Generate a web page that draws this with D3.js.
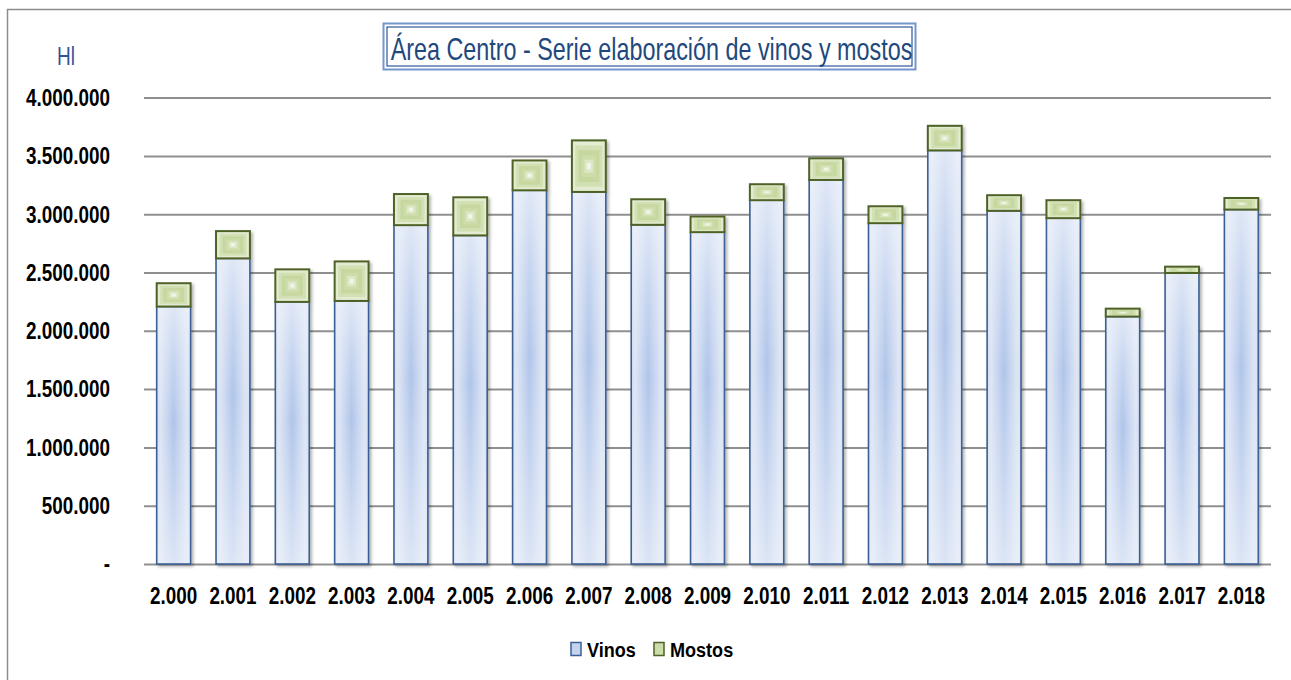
<!DOCTYPE html>
<html>
<head>
<meta charset="utf-8">
<script src="https://cdn.jsdelivr.net/npm/d3@7"></script>
<style>
  body { margin: 0; background: #fff; }
  svg text { font-family: "Liberation Sans Narrow", "Arial Narrow", "Liberation Sans", sans-serif; }
</style>
</head>
<body>
<div id="chart"></div>
<script>
// datos (Hl)
const years = [2000, 2001, 2002, 2003, 2004, 2005, 2006, 2007, 2008, 2009, 2010, 2011, 2012, 2013, 2014, 2015, 2016, 2017, 2018];
const vinos = [2208000, 2621000, 2248000, 2256000, 2906000, 2818000, 3205000, 3191000, 2909000, 2846000, 3120000, 3294000, 2923000, 3547000, 3029000, 2966000, 2122000, 2496000, 3040000];
const mostos = [200000, 234000, 279000, 339000, 267000, 327000, 256000, 442000, 219000, 134000, 137000, 185000, 145000, 211000, 134000, 154000, 68000, 54000, 99000];
const yTicks = [0, 500000, 1000000, 1500000, 2000000, 2500000, 3000000, 3500000, 4000000];

const W = 1291, H = 680;
const plotLeft = 144, plotRight = 1271, plotTop = 97.6, plotBottom = 564;
const NARROW = 0.77; // no hay Arial Narrow: se estrecha la Liberation Sans

const es = d3.formatLocale({ decimal: ',', thousands: '.', grouping: [3], currency: ['', ' €'] });
const fmt = es.format(',d');

// estrecha un texto horizontalmente conservando su punto de anclaje
function condense(sel, k) {
    sel.each(function () {
        const t = d3.select(this);
        const x0 = +t.attr('x') || 0;
        t.attr('x', x0 / k).attr('transform', `scale(${k},1)`);
    });
}

const svg = d3.select('#chart')
    .append('svg')
    .attr('width', W)
    .attr('height', H);

const defs = svg.append('defs');

const gH = defs.append('linearGradient').attr('id', 'vinoH').attr('x1', 0).attr('x2', 1).attr('y1', 0).attr('y2', 0);
[[0, '#d4def1'], [0.12, '#dde5f4'], [0.5, '#b0c5ea'], [0.88, '#dde5f4'], [1, '#d4def1']]
    .forEach(s => gH.append('stop').attr('offset', s[0]).attr('stop-color', s[1]));
const gV = defs.append('linearGradient').attr('id', 'vinoV').attr('x1', 0).attr('x2', 0).attr('y1', 0).attr('y2', 1);
[[0, 0.75], [0.2, 0.35], [0.45, 0], [0.7, 0.3], [1, 0.7]]
    .forEach(s => gV.append('stop').attr('offset', s[0]).attr('stop-color', '#eef2fa').attr('stop-opacity', s[1]));

const shadow = defs.append('filter').attr('id', 'sombra').attr('x', '-20%').attr('y', '-20%').attr('width', '150%').attr('height', '150%');
shadow.append('feDropShadow').attr('dx', 2).attr('dy', 2).attr('stdDeviation', 1.5)
    .attr('flood-color', '#000').attr('flood-opacity', 0.3);

// marco
svg.append('rect')
    .attr('x', 7.5).attr('y', 9.5)
    .attr('width', W + 20).attr('height', H + 20)
    .attr('fill', 'none').attr('stroke', '#8c8c8c').attr('stroke-width', 1.5);

const x = d3.scaleBand()
    .domain(years)
    .range([plotLeft, plotRight])
    .paddingInner(0.75 / 1.75)
    .paddingOuter(0.75 / 3.5);

const y = d3.scaleLinear()
    .domain([0, 4000000])
    .range([plotBottom, plotTop]);

// eje y + rejilla
const yAxis = svg.append('g')
    .attr('transform', `translate(${plotLeft},0)`)
    .call(d3.axisLeft(y)
        .tickValues(yTicks)
        .tickSize(-(plotRight - plotLeft))
        .tickPadding(34)
        .tickFormat(d => d === 0 ? '-' : fmt(d)));
yAxis.select('.domain').remove();
yAxis.selectAll('line').attr('stroke', '#8f8f8f').attr('stroke-width', 2);
yAxis.selectAll('text')
    .attr('fill', '#000')
    .style('font-size', '24.5px')
    .style('font-weight', 'bold')
    .call(condense, NARROW);

// barras apiladas
const groups = svg.append('g').selectAll('g')
    .data(years)
    .join('g')
    .attr('filter', 'url(#sombra)');

groups.each(function (yr, i) {
    const g = d3.select(this);
    const bx = x(yr), bw = x.bandwidth();
    const yv = y(vinos[i]);
    const yt = y(vinos[i] + mostos[i]);

    // vinos
    g.append('rect').attr('x', bx).attr('y', yv).attr('width', bw).attr('height', plotBottom - yv)
        .attr('fill', 'url(#vinoH)');
    g.append('rect').attr('x', bx).attr('y', yv).attr('width', bw).attr('height', plotBottom - yv)
        .attr('fill', 'url(#vinoV)');
    g.append('rect').attr('x', bx).attr('y', yv).attr('width', bw).attr('height', plotBottom - yv)
        .attr('fill', 'none').attr('stroke', '#3b6096').attr('stroke-width', 1.6);

    // mostos: degradado rectangular desde el centro
    const mh = yv - yt;
    const cx = bx + bw / 2, cy = yt + mh / 2;
    const steps = [[1, '#e3ebd1'], [0.8, '#d2e1b3'], [0.62, '#c6d89f'], [0.42, '#cddda9'], [0.26, '#dce7c5'], [0.12, '#f2f6ea']];
    steps.forEach(s => {
        g.append('rect')
            .attr('x', cx - bw * s[0] / 2).attr('y', cy - mh * s[0] / 2)
            .attr('width', bw * s[0]).attr('height', mh * s[0])
            .attr('fill', s[1]);
    });
    g.append('rect').attr('x', bx).attr('y', yt).attr('width', bw).attr('height', mh)
        .attr('fill', 'none').attr('stroke', '#4f6228').attr('stroke-width', 2);
});

// eje x
const xAxis = svg.append('g')
    .attr('transform', `translate(0,${plotBottom})`)
    .call(d3.axisBottom(x).tickSize(0).tickPadding(23).tickFormat(d => fmt(d)));
xAxis.select('.domain').remove();
xAxis.selectAll('text')
    .attr('fill', '#000')
    .style('font-size', '24.5px')
    .style('font-weight', 'bold')
    .call(condense, NARROW);

// unidad
svg.append('text')
    .attr('x', 66).attr('y', 65)
    .attr('text-anchor', 'middle')
    .attr('fill', '#2f5597')
    .style('font-size', '25px')
    .text('Hl')
    .call(condense, 0.76);

// titulo con doble borde
svg.append('rect').attr('x', 383.5).attr('y', 23.5).attr('width', 532).attr('height', 46)
    .attr('fill', '#fff').attr('stroke', '#7396cc').attr('stroke-width', 2);
svg.append('rect').attr('x', 387).attr('y', 27).attr('width', 525).attr('height', 39)
    .attr('fill', 'none').attr('stroke', '#2f5597').attr('stroke-width', 1.2);
svg.append('text')
    .attr('x', 651.5).attr('y', 60)
    .attr('text-anchor', 'middle')
    .attr('fill', '#1f497d')
    .style('font-size', '32px')
    .text('Área Centro - Serie elaboración de vinos y mostos')
    .call(condense, 0.73);

// leyenda
const legend = [
    { name: 'Vinos', fill: '#c5d4ee', stroke: '#3b6096', x: 571 },
    { name: 'Mostos', fill: '#cddda9', stroke: '#4f6228', x: 654 }
];
const lg = svg.append('g').selectAll('g').data(legend).join('g');
lg.append('rect')
    .attr('x', d => d.x).attr('y', 642.5)
    .attr('width', 10).attr('height', 13)
    .attr('fill', d => d.fill).attr('stroke', d => d.stroke).attr('stroke-width', 1.5);
lg.append('text')
    .attr('x', d => d.x + 16).attr('y', 657)
    .attr('fill', '#000')
    .style('font-size', '21px')
    .style('font-weight', 'bold')
    .text(d => d.name)
    .call(condense, 0.86);
</script>
</body>
</html>
